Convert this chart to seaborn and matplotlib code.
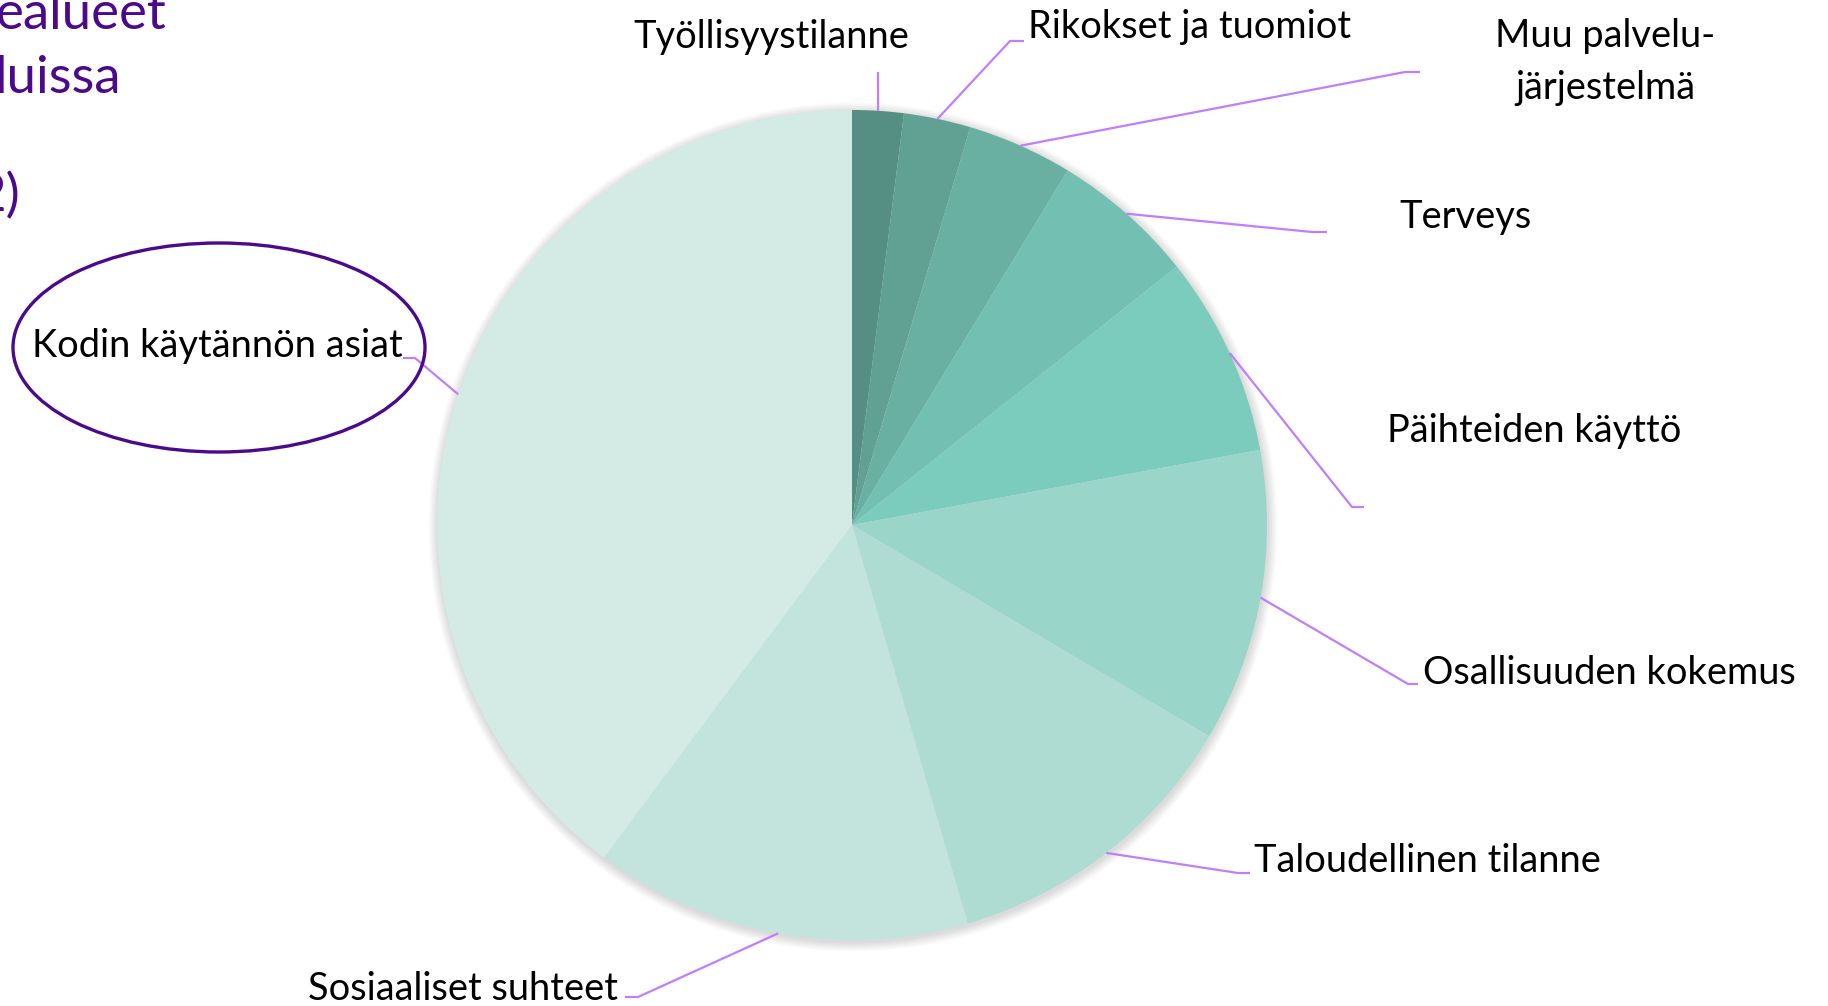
import matplotlib
matplotlib.use("Agg")
import matplotlib.pyplot as plt
import seaborn as sns
import numpy as np
from matplotlib.patches import Ellipse, Circle

# ---- data (clockwise from 12 o'clock) ----
categories = ["Työllisyystilanne", "Rikokset ja tuomiot", "Muu palvelu-\njärjestelmä",
              "Terveys", "Päihteiden käyttö", "Osallisuuden kokemus",
              "Taloudellinen tilanne", "Sosiaaliset suhteet", "Kodin käytännön asiat"]
values = [2.0, 2.6, 4.1, 5.6, 7.8, 11.4, 12.0, 14.7, 39.8]
title_fragments = ["ealueet", "luissa", "2)"]

# ---- style ----
colors = ["#558E82", "#60A193", "#69B0A2", "#73BFB1", "#7BCCBD",
          "#9AD5CA", "#AEDCD3", "#C3E3DD", "#D3EAE5"]
leader_color = "#C07EFA"
purple = "#4B0A8C"

sns.set_theme(style="white")
plt.rcParams["font.family"] = ["Lato", "DejaVu Sans"]

W, H = 1828, 1006
fig = plt.figure(figsize=(W / 100, H / 100), dpi=100)
ax = fig.add_axes([0, 0, 1, 1])

def P(x, y):
    # pixel (y down) -> data (y up)
    return x, H - y

cx, cy = P(852, 525)
R = 415

# soft shadow
for i in range(12, 0, -1):
    ax.add_patch(Circle((cx + 1, cy - 2), R + i * 0.8, color="black", alpha=0.010, lw=0, zorder=0))

wedges, _ = ax.pie(values, colors=colors, startangle=90, counterclock=False,
                   center=(cx, cy), radius=R, wedgeprops=dict(linewidth=0), labels=None)
for w in wedges:
    w.set_zorder(2)

# layout of labels (pixel coords, y down): text anchor, alignment, elbow, end
label_layout = [
    dict(xy=(771, 48), ha="center", elbow=(878, 72), end=(878, 72)),
    dict(xy=(1028, 38), ha="left", elbow=(1010, 41), end=(1024, 41)),
    dict(xy=(1605, 47), ha="center", elbow=(1405, 72), end=(1420, 72)),
    dict(xy=(1399, 228), ha="left", elbow=(1312, 232), end=(1327, 232)),
    dict(xy=(1387, 442), ha="left", elbow=(1352, 507), end=(1364, 507)),
    dict(xy=(1423, 684), ha="left", elbow=(1408, 684), end=(1418, 684)),
    dict(xy=(1254, 872), ha="left", elbow=(1238, 873), end=(1250, 873)),
    dict(xy=(308, 1000), ha="left", elbow=(638, 997), end=(625, 997)),
    dict(xy=(32, 357), ha="left", elbow=(415, 358), end=(403, 358)),
]

fs = 27.4
for w, cat, lay in zip(wedges, categories, label_layout):
    mid = np.deg2rad((w.theta1 + w.theta2) / 2)
    ax_x = cx + R * np.cos(mid)
    ax_y = cy + R * np.sin(mid)
    ex, ey = P(*lay["elbow"])
    nx, ny = P(*lay["end"])
    ax.plot([ax_x, ex, nx], [ax_y, ey, ny], color=leader_color, lw=1.6,
            solid_capstyle="butt", zorder=3)
    tx, ty = P(*lay["xy"])
    lines = cat.split("\n")
    for k, line in enumerate(lines):
        ax.text(tx, ty - k * 52, line, ha=lay["ha"], va="baseline", fontsize=fs,
                color="black", zorder=4)

# highlight ellipse around the largest category label
ex0, ey0 = P(219, 347.5)
ax.add_patch(Ellipse((ex0, ey0), 412, 209, fill=False, edgecolor=purple, lw=2.4, zorder=5))

# cropped title fragments
title_pos = [(166, 29), (121, 93), (20, 211)]
for frag, (x, y) in zip(title_fragments, title_pos):
    px, py = P(x, y)
    ax.text(px, py, frag, ha="right", va="baseline", fontsize=38, color=purple)

ax.set_xlim(0, W)
ax.set_ylim(0, H)
ax.set_aspect("auto")
ax.axis("off")
fig.savefig("out.png", dpi=100, facecolor="white")
